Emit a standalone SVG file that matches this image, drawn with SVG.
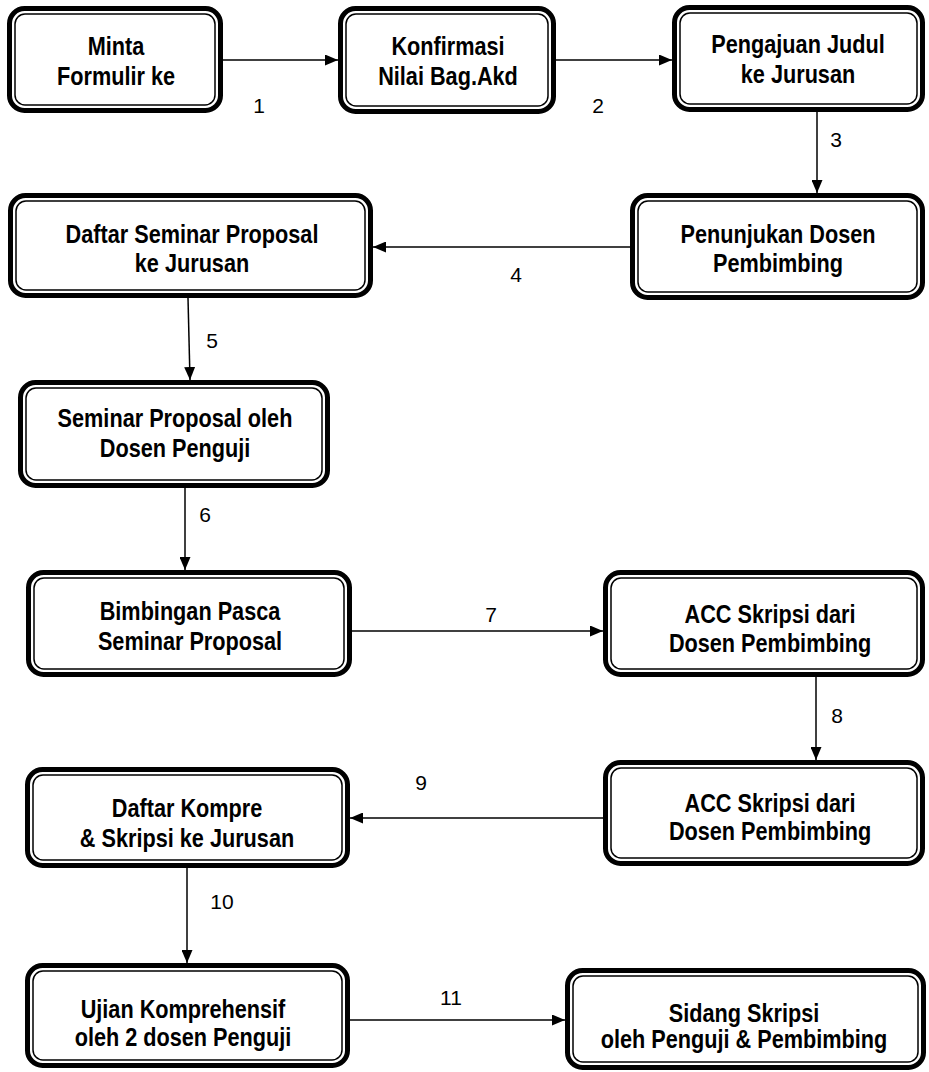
<svg xmlns="http://www.w3.org/2000/svg" width="929" height="1072" viewBox="0 0 929 1072">
<defs>
<marker id="ah" markerUnits="userSpaceOnUse" markerWidth="13" markerHeight="11" refX="13" refY="5.5" orient="auto">
<path d="M0,0 L13,5.5 L0,11 Z" fill="#000"/>
</marker>
<style>
.o{fill:#fff;stroke:#000;stroke-width:5}
.i{fill:none;stroke:#000;stroke-width:1.5}
.t{font-family:"Liberation Sans",Arial,sans-serif;font-weight:bold;font-size:25.5px;text-anchor:middle;fill:#000}
.n{font-family:"Liberation Sans",Arial,sans-serif;font-size:21px;text-anchor:middle;fill:#000}
.c{stroke:#000;stroke-width:1.5;fill:none;marker-end:url(#ah)}
</style>
</defs>
<rect width="929" height="1072" fill="#fff"/>
<g id="connectors">
<line class="c" x1="223" y1="60" x2="338" y2="60"/>
<line class="c" x1="556" y1="60" x2="672" y2="60"/>
<line class="c" x1="817" y1="112" x2="817" y2="193"/>
<line class="c" x1="630" y1="247" x2="373" y2="247"/>
<line class="c" x1="188" y1="298" x2="190" y2="380"/>
<line class="c" x1="185" y1="488" x2="185" y2="570"/>
<line class="c" x1="352" y1="631" x2="603" y2="631"/>
<line class="c" x1="816" y1="677" x2="816" y2="760"/>
<line class="c" x1="603" y1="818" x2="350" y2="818"/>
<line class="c" x1="187" y1="868" x2="187" y2="963"/>
<line class="c" x1="350" y1="1020" x2="565" y2="1020"/>
<text class="n" x="259" y="113">1</text>
<text class="n" x="598" y="113">2</text>
<text class="n" x="836" y="147">3</text>
<text class="n" x="516" y="282">4</text>
<text class="n" x="212" y="348">5</text>
<text class="n" x="205" y="522">6</text>
<text class="n" x="491" y="622">7</text>
<text class="n" x="837" y="723">8</text>
<text class="n" x="421" y="790">9</text>
<text class="n" x="222" y="909">10</text>
<text class="n" x="451" y="1005">11</text>
</g>
<g id="n1"><rect class="o" x="9.5" y="8.5" width="211" height="102" rx="15"/><rect class="i" x="15" y="14" width="200" height="91" rx="10"/><g transform="translate(116 0) scale(0.85 1)"><text class="t" x="0" y="55">Minta</text><text class="t" x="0" y="85">Formulir ke</text></g></g>
<g id="n2"><rect class="o" x="340.5" y="8.5" width="213" height="103" rx="15"/><rect class="i" x="346" y="14" width="202" height="92" rx="10"/><g transform="translate(448 0) scale(0.85 1)"><text class="t" x="0" y="55">Konfirmasi</text><text class="t" x="0" y="85">Nilai Bag.Akd</text></g></g>
<g id="n3"><rect class="o" x="674.5" y="7.5" width="248" height="102" rx="15"/><rect class="i" x="680" y="13" width="237" height="91" rx="10"/><g transform="translate(798 0) scale(0.85 1)"><text class="t" x="0" y="53">Pengajuan Judul</text><text class="t" x="0" y="83">ke Jurusan</text></g></g>
<g id="n4"><rect class="o" x="632.5" y="195.5" width="290" height="102" rx="15"/><rect class="i" x="638" y="201" width="279" height="91" rx="10"/><g transform="translate(778 0) scale(0.85 1)"><text class="t" x="0" y="243">Penunjukan Dosen</text><text class="t" x="0" y="272">Pembimbing</text></g></g>
<g id="n5"><rect class="o" x="10.5" y="195.5" width="360" height="100" rx="15"/><rect class="i" x="16" y="201" width="349" height="89" rx="10"/><g transform="translate(192 0) scale(0.85 1)"><text class="t" x="0" y="243">Daftar Seminar Proposal</text><text class="t" x="0" y="272">ke Jurusan</text></g></g>
<g id="n6"><rect class="o" x="20.5" y="382.5" width="307" height="103" rx="15"/><rect class="i" x="26" y="388" width="296" height="92" rx="10"/><g transform="translate(175 0) scale(0.85 1)"><text class="t" x="0" y="427">Seminar Proposal oleh</text><text class="t" x="0" y="457">Dosen Penguji</text></g></g>
<g id="n7"><rect class="o" x="28.5" y="572.5" width="321" height="102" rx="15"/><rect class="i" x="34" y="578" width="310" height="91" rx="10"/><g transform="translate(190 0) scale(0.85 1)"><text class="t" x="0" y="620">Bimbingan Pasca</text><text class="t" x="0" y="650">Seminar Proposal</text></g></g>
<g id="n8"><rect class="o" x="605.5" y="572.5" width="317" height="102" rx="15"/><rect class="i" x="611" y="578" width="306" height="91" rx="10"/><g transform="translate(770 0) scale(0.85 1)"><text class="t" x="0" y="623">ACC Skripsi dari</text><text class="t" x="0" y="652">Dosen Pembimbing</text></g></g>
<g id="n9"><rect class="o" x="605.5" y="762.5" width="317" height="101" rx="15"/><rect class="i" x="611" y="768" width="306" height="90" rx="10"/><g transform="translate(770 0) scale(0.85 1)"><text class="t" x="0" y="812">ACC Skripsi dari</text><text class="t" x="0" y="840">Dosen Pembimbing</text></g></g>
<g id="n10"><rect class="o" x="27.5" y="769.5" width="320" height="96" rx="15"/><rect class="i" x="33" y="775" width="309" height="85" rx="10"/><g transform="translate(187 0) scale(0.85 1)"><text class="t" x="0" y="817">Daftar Kompre</text><text class="t" x="0" y="847">&amp; Skripsi ke Jurusan</text></g></g>
<g id="n11"><rect class="o" x="27.5" y="965.5" width="320" height="100" rx="15"/><rect class="i" x="33" y="971" width="309" height="89" rx="10"/><g transform="translate(183 0) scale(0.85 1)"><text class="t" x="0" y="1018">Ujian Komprehensif</text><text class="t" x="0" y="1046">oleh 2 dosen Penguji</text></g></g>
<g id="n12"><rect class="o" x="567.5" y="970.5" width="356" height="97" rx="15"/><rect class="i" x="573" y="976" width="345" height="86" rx="10"/><g transform="translate(744 0) scale(0.85 1)"><text class="t" x="0" y="1022">Sidang Skripsi</text><text class="t" x="0" y="1048">oleh Penguji &amp; Pembimbing</text></g></g>
</svg>
